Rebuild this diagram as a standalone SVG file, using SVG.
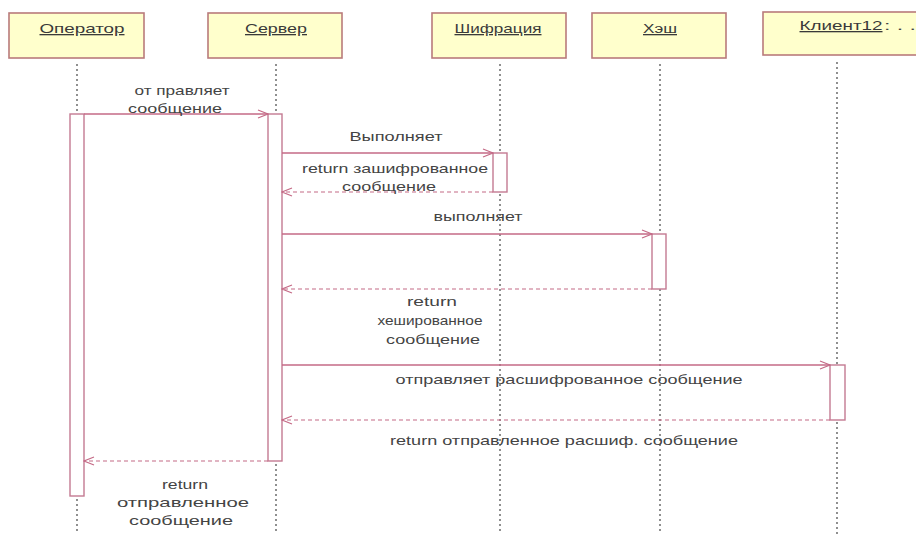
<svg xmlns="http://www.w3.org/2000/svg" width="916" height="534" viewBox="0 0 916 534">
<defs>
<marker id="arr" markerWidth="12" markerHeight="10" refX="11" refY="5" orient="auto" markerUnits="userSpaceOnUse">
<path d="M1,1 L11,5 L1,9" fill="none" stroke="#c46a86" stroke-width="1.2"/>
</marker>
<style>
.box{fill:#ffffcc;stroke:#b97b7b;stroke-width:1.6}
.lt{font-family:"Liberation Sans",Arial,sans-serif;font-size:13px;fill:#3a3a3a;text-anchor:middle;text-decoration:underline}
.lbl{font-family:"Liberation Sans",Arial,sans-serif;font-size:13px;fill:#444;text-anchor:middle}
.life{stroke:#555;stroke-width:1.3;stroke-dasharray:2,3;fill:none}
.act{fill:#fff;stroke:#c47a92;stroke-width:1.4}
.msg{stroke:#c46a86;stroke-width:1.3;fill:none;marker-end:url(#arr)}
.ret{stroke:#c46a86;stroke-width:1.2;fill:none;stroke-dasharray:4,3;marker-end:url(#arr)}
</style>
</defs>
<rect width="916" height="534" fill="#fff"/>
<g id="lifelines">
<line class="life" x1="77" y1="64" x2="77" y2="534"/>
<line class="life" x1="276" y1="64" x2="276" y2="534"/>
<line class="life" x1="500" y1="64" x2="500" y2="534"/>
<line class="life" x1="660" y1="64" x2="660" y2="534"/>
<line class="life" x1="837" y1="62" x2="837" y2="534"/>
</g>
<g id="operator">
<rect class="box" x="9" y="13" width="135" height="45"/>
<text class="lt" x="82" y="33" textLength="85" lengthAdjust="spacingAndGlyphs">Оператор</text>
<rect class="act" x="70" y="114" width="14" height="382"/>
</g>
<g id="server">
<rect class="box" x="208" y="13" width="134" height="45"/>
<text class="lt" x="276" y="33" textLength="62" lengthAdjust="spacingAndGlyphs">Сервер</text>
<rect class="act" x="268" y="114" width="14" height="347"/>
</g>
<g id="cipher">
<rect class="box" x="432" y="13" width="134" height="45"/>
<text class="lt" x="498" y="33" textLength="87" lengthAdjust="spacingAndGlyphs">Шифрация</text>
<rect class="act" x="493" y="153" width="14" height="39"/>
</g>
<g id="hash">
<rect class="box" x="592" y="13" width="134" height="45"/>
<text class="lt" x="660" y="33" textLength="34" lengthAdjust="spacingAndGlyphs">Хэш</text>
<rect class="act" x="652" y="234" width="14" height="55"/>
</g>
<g id="client">
<rect class="box" x="763" y="12" width="170" height="43"/>
<text class="lt" x="841" y="30" textLength="83" lengthAdjust="spacingAndGlyphs">Клиент12</text>
<text class="lbl" x="900" y="30" textLength="32" lengthAdjust="spacingAndGlyphs">: . .</text>
<rect class="act" x="830" y="365" width="15" height="55"/>
</g>
<g id="connectors">
<line class="msg" x1="84" y1="114" x2="268" y2="114"/>
<line class="msg" x1="282" y1="153" x2="493" y2="153"/>
<line class="ret" x1="493" y1="192" x2="282" y2="192"/>
<line class="msg" x1="282" y1="234" x2="652" y2="234"/>
<line class="ret" x1="652" y1="289" x2="282" y2="289"/>
<line class="msg" x1="282" y1="365" x2="830" y2="365"/>
<line class="ret" x1="830" y1="420" x2="282" y2="420"/>
<line class="ret" x1="268" y1="461" x2="84" y2="461"/>
</g>
<g id="labels">
<text class="lbl" x="182" y="95" textLength="95" lengthAdjust="spacingAndGlyphs">от правляет</text>
<text class="lbl" x="175" y="113" textLength="94" lengthAdjust="spacingAndGlyphs">сообщение</text>
<text class="lbl" x="396" y="141" textLength="93" lengthAdjust="spacingAndGlyphs">Выполняет</text>
<text class="lbl" x="395" y="173" textLength="186" lengthAdjust="spacingAndGlyphs">return зашифрованное</text>
<text class="lbl" x="389" y="191" textLength="94" lengthAdjust="spacingAndGlyphs">сообщение</text>
<text class="lbl" x="478" y="221" textLength="89" lengthAdjust="spacingAndGlyphs">выполняет</text>
<text class="lbl" x="432" y="306" textLength="50" lengthAdjust="spacingAndGlyphs">return</text>
<text class="lbl" x="430" y="325" textLength="105" lengthAdjust="spacingAndGlyphs">хешированное</text>
<text class="lbl" x="433" y="344" textLength="94" lengthAdjust="spacingAndGlyphs">сообщение</text>
<text class="lbl" x="569" y="384" textLength="347" lengthAdjust="spacingAndGlyphs">отправляет расшифрованное сообщение</text>
<text class="lbl" x="564" y="445" textLength="348" lengthAdjust="spacingAndGlyphs">return отправленное расшиф. сообщение</text>
<text class="lbl" x="185" y="489" textLength="46" lengthAdjust="spacingAndGlyphs">return</text>
<text class="lbl" x="183" y="507" textLength="132" lengthAdjust="spacingAndGlyphs">отправленное</text>
<text class="lbl" x="181" y="525" textLength="104" lengthAdjust="spacingAndGlyphs">сообщение</text>
</g>
</svg>
